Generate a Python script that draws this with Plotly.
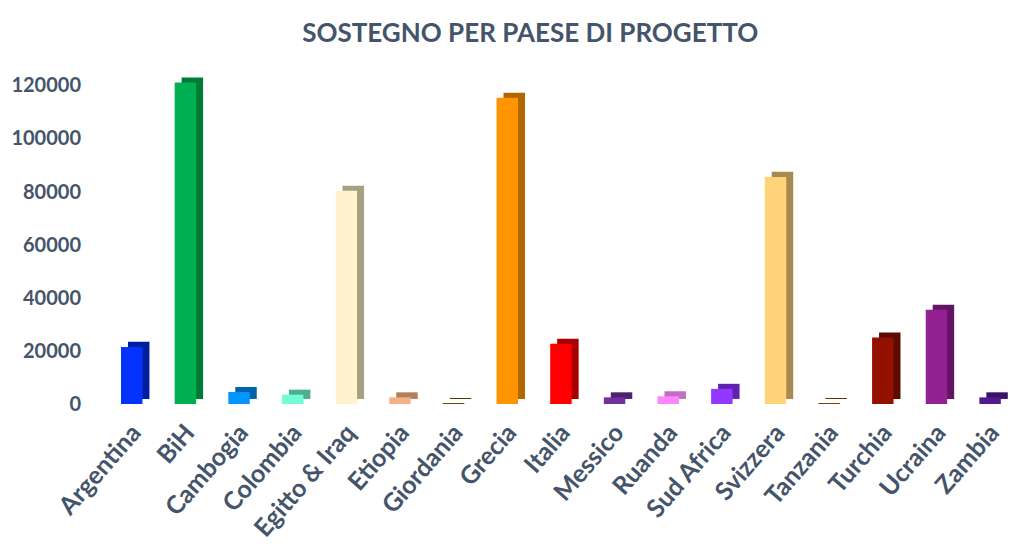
import plotly.graph_objects as go

categories = ["Argentina", "BiH", "Cambogia", "Colombia", "Egitto & Iraq", "Etiopia",
              "Giordania", "Grecia", "Italia", "Messico", "Ruanda", "Sud Africa",
              "Svizzera", "Tanzania", "Turchia", "Ucraina", "Zambia"]
values = [21500, 121000, 4500, 3500, 80300, 2500, 300, 115300, 22700, 2500, 2900,
          5700, 85500, 300, 25000, 35500, 2500]
front_colors = ["#0432FF", "#00B050", "#0096FF", "#73FDD6", "#FFF2CC", "#F4B183",
                "#604A00", "#FF9300", "#FF0000", "#7030A0", "#FF85FF", "#9437FF",
                "#FFD479", "#7A4100", "#941100", "#942192", "#531B93"]
side_colors = ["#001F9F", "#007A37", "#0063A8", "#4CAF90", "#A6A080", "#B07F5E",
               "#4A3900", "#B26600", "#A80000", "#4E2170", "#C070C0", "#6020B0",
               "#A88A50", "#5E3200", "#5E0A00", "#611563", "#3A1268"]
y_ticks = [0, 20000, 40000, 60000, 80000, 100000, 120000]

DEPTH = 1900  # visual depth of the 3D effect (style)

TEXT = "#44546A"
FONT = "Lato"

fig = go.Figure()
# back (side/top) faces
fig.add_trace(go.Bar(
    x=categories, y=values, base=DEPTH,
    width=0.4, offset=-0.09,
    marker=dict(color=side_colors, line=dict(width=0)),
    hoverinfo="skip", showlegend=False,
))
# front faces
fig.add_trace(go.Bar(
    x=categories, y=values,
    width=0.4, offset=-0.22,
    marker=dict(color=front_colors, line=dict(width=0)),
    showlegend=False,
))

fig.update_layout(
    width=1024, height=553,
    barmode="overlay",
    paper_bgcolor="white", plot_bgcolor="white",
    margin=dict(l=98, r=14, t=64, b=157, autoexpand=False),
    title=dict(text="SOSTEGNO PER PAESE DI PROGETTO", x=0.51, xanchor="center",
               y=0.955, yanchor="middle",
               font=dict(family=FONT, size=26, color=TEXT, weight="bold")),
    font=dict(family=FONT, color=TEXT),
)
fig.update_xaxes(
    type="category", tickangle=-49,
    tickfont=dict(family=FONT, size=25, color=TEXT, weight="bold"),
    showgrid=False, showline=False, zeroline=False, ticks="",
    ticklabelstandoff=8, automargin=False,
)
fig.update_yaxes(
    range=[0, 125000], tickvals=y_ticks, ticktext=[str(v) for v in y_ticks],
    tickfont=dict(family=FONT, size=20, color=TEXT, weight="bold"),
    showgrid=False, showline=False, zeroline=False, ticks="",
    ticklabelstandoff=24, automargin=False,
)

fig.write_html("out.html")
